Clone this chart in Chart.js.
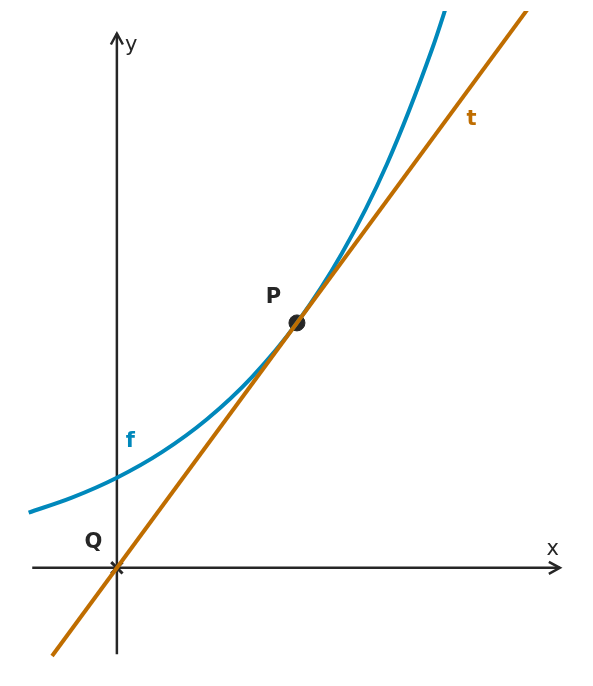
<!DOCTYPE html>
<html>
<head>
<meta charset="utf-8">
<script src="https://cdn.jsdelivr.net/npm/chart.js@4"></script>
<style>
  html, body { margin: 0; padding: 0; background: #fff; }
  #wrap { width: 593px; height: 686px; }
</style>
</head>
<body>
<div id="wrap"><canvas id="plot"></canvas></div>
<script>
// f(x) = e^x, sampled values
const fX = [-0.49, -0.25, 0, 0.25, 0.5, 0.75, 1, 1.25, 1.5, 1.75, 1.85];
const fY = [0.613, 0.779, 1, 1.284, 1.649, 2.117, 2.718, 3.490, 4.482, 5.755, 6.360];
// tangent t through Q and P
const tX = [-0.36, 2.3];
const tY = [-0.979, 6.252];
const pointP = [1, 2.718];
const pointQ = [0, 0];

const toPts = (xs, ys) => xs.map((x, i) => ({ x: x, y: ys[i] }));

const blue = '#0088bb';
const orange = '#bf6d00';
const dark = '#262626';

const axesAndLabels = {
    id: 'axesAndLabels',
    beforeDatasetsDraw(chart) {
        const { ctx, scales: { x, y } } = chart;
        const x0 = x.getPixelForValue(0), y0 = y.getPixelForValue(0);
        ctx.save();
        ctx.strokeStyle = dark;
        ctx.lineWidth = 2.5;
        ctx.beginPath();
        ctx.moveTo(x.getPixelForValue(-0.47), y0);
        ctx.lineTo(x.getPixelForValue(2.46), y0);
        ctx.moveTo(x0, y.getPixelForValue(-0.96));
        ctx.lineTo(x0, y.getPixelForValue(5.93));
        ctx.stroke();
        // arrow heads
        const xe = x.getPixelForValue(2.46), ye = y.getPixelForValue(5.93);
        ctx.beginPath();
        ctx.moveTo(xe - 11, y0 - 6); ctx.lineTo(xe, y0); ctx.lineTo(xe - 11, y0 + 6);
        ctx.moveTo(x0 - 6, ye + 11); ctx.lineTo(x0, ye); ctx.lineTo(x0 + 6, ye + 11);
        ctx.stroke();
        ctx.restore();
    },
    afterDatasetsDraw(chart) {
        const { ctx, scales: { x, y } } = chart;
        const put = (txt, vx, vy, color, bold) => {
            ctx.fillStyle = color;
            ctx.font = (bold ? 'bold ' : '') + '21px "DejaVu Sans"';
            ctx.textAlign = 'center';
            ctx.textBaseline = 'middle';
            ctx.fillText(txt, x.getPixelForValue(vx), y.getPixelForValue(vy));
        };
        put('y', 0.08, 5.8, dark, false);
        put('x', 2.42, 0.2, dark, false);
        put('f', 0.075, 1.4, blue, true);
        put('t', 1.97, 4.98, orange, true);
        put('P', 0.87, 3.0, dark, true);
        put('Q', -0.13, 0.28, dark, true);
    }
};

new Chart(document.getElementById('plot'), {
    type: 'scatter',
    data: {
        datasets: [
            {
                data: toPts(tX, tY),
                showLine: true,
                borderColor: orange,
                borderWidth: 4,
                pointRadius: 0,
            },
            {
                data: toPts(fX, fY),
                showLine: true,
                cubicInterpolationMode: 'monotone',
                borderColor: blue,
                borderWidth: 4,
                pointRadius: 0,
            },
            {
                data: [{ x: pointP[0], y: pointP[1] }],
                backgroundColor: dark,
                borderColor: dark,
                pointRadius: 8,
            },
            {
                data: [{ x: pointQ[0], y: pointQ[1] }],
                pointStyle: 'crossRot',
                borderColor: dark,
                borderWidth: 3,
                pointRadius: 8,
            },
        ],
    },
    options: {
        responsive: true,
        maintainAspectRatio: false,
        animation: false,
        layout: { padding: 0 },
        plugins: { legend: { display: false }, tooltip: { enabled: false } },
        scales: {
            x: { type: 'linear', min: -0.588, max: 2.583, display: false },
            y: { type: 'linear', min: -1.19, max: 6.18, display: false },
        },
    },
    plugins: [axesAndLabels],
});
</script>
</body>
</html>
